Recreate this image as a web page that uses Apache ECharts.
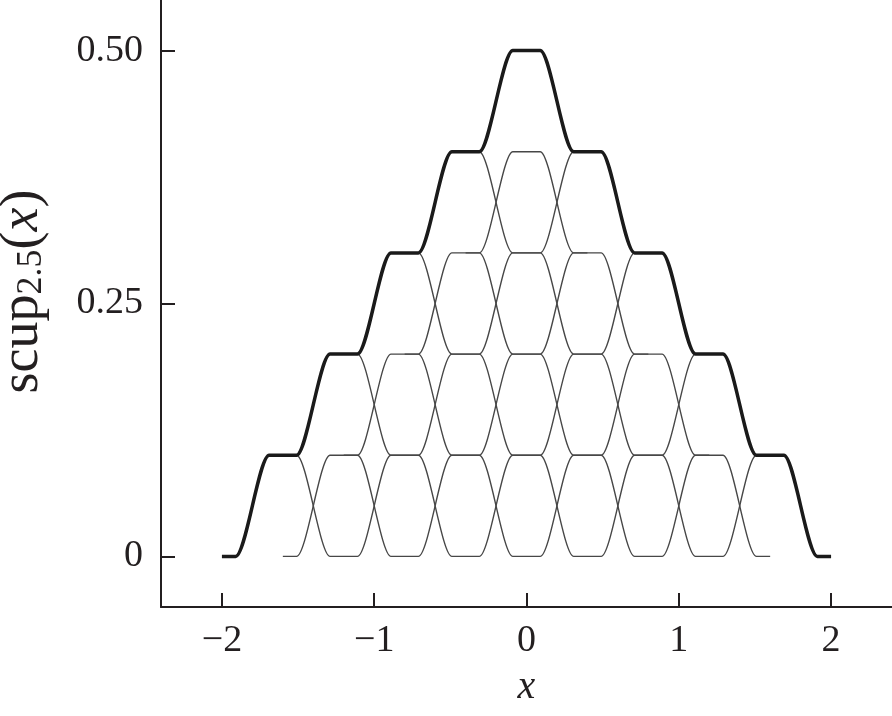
<!DOCTYPE html>
<html><head><meta charset="utf-8">
<script src="https://cdn.jsdelivr.net/npm/echarts@6/dist/echarts.min.js"></script>
<style>html,body{margin:0;padding:0;background:#fff}#c{width:892px;height:716px}</style>
</head><body><div id="c"></div>
<script>
// tick values and labels
const xTickValues = [-2, -1, 0, 1, 2];
const xTickLabels = ['\u22122', '\u22121', '0', '1', '2'];
const yTickValues = [0, 0.25, 0.5];
const yTickLabels = ['0', '0.25', '0.50'];

// scup_2.5(x): staircase outline (plateau end points)
const scupCurve = [[-2,0],[-1.91,0],[-1.69,0.1],[-1.51,0.1],[-1.29,0.2],[-1.11,0.2],[-0.89,0.3],[-0.71,0.3],
  [-0.49,0.4],[-0.31,0.4],[-0.09,0.5],[0.09,0.5],[0.31,0.4],[0.49,0.4],[0.71,0.3],[0.89,0.3],
  [1.11,0.2],[1.29,0.2],[1.51,0.1],[1.69,0.1],[1.91,0],[2,0]];

// thin component curves, row by row
const row0A = [[-1.6,0],[-1.51,0],[-1.29,0.1],[-1.11,0.1],[-0.89,0],[-0.71,0],[-0.49,0.1],[-0.31,0.1],[-0.09,0],[0.09,0],
  [0.31,0.1],[0.49,0.1],[0.71,0],[0.89,0],[1.11,0.1],[1.29,0.1],[1.51,0],[1.6,0]];
const row0B = [[-1.6,0.1],[-1.51,0.1],[-1.29,0],[-1.11,0],[-0.89,0.1],[-0.71,0.1],[-0.49,0],[-0.31,0],[-0.09,0.1],[0.09,0.1],
  [0.31,0],[0.49,0],[0.71,0.1],[0.89,0.1],[1.11,0],[1.29,0],[1.51,0.1],[1.6,0.1]];
const row1A = [[-1.2,0.1],[-1.11,0.1],[-0.89,0.2],[-0.71,0.2],[-0.49,0.1],[-0.31,0.1],[-0.09,0.2],[0.09,0.2],
  [0.31,0.1],[0.49,0.1],[0.71,0.2],[0.89,0.2],[1.11,0.1],[1.2,0.1]];
const row1B = [[-1.2,0.2],[-1.11,0.2],[-0.89,0.1],[-0.71,0.1],[-0.49,0.2],[-0.31,0.2],[-0.09,0.1],[0.09,0.1],
  [0.31,0.2],[0.49,0.2],[0.71,0.1],[0.89,0.1],[1.11,0.2],[1.2,0.2]];
const row2A = [[-0.8,0.2],[-0.71,0.2],[-0.49,0.3],[-0.31,0.3],[-0.09,0.2],[0.09,0.2],[0.31,0.3],[0.49,0.3],[0.71,0.2],[0.8,0.2]];
const row2B = [[-0.8,0.3],[-0.71,0.3],[-0.49,0.2],[-0.31,0.2],[-0.09,0.3],[0.09,0.3],[0.31,0.2],[0.49,0.2],[0.71,0.3],[0.8,0.3]];
const row3A = [[-0.4,0.3],[-0.31,0.3],[-0.09,0.4],[0.09,0.4],[0.31,0.3],[0.4,0.3]];
const row3B = [[-0.4,0.4],[-0.31,0.4],[-0.09,0.3],[0.09,0.3],[0.31,0.4],[0.4,0.4]];

const thinCurves = [row0A, row0B, row1A, row1B, row2A, row2B, row3A, row3B];

const FONT = '"Liberation Serif", "Times New Roman", serif';
const INK = '#231f20';

const chart = echarts.init(document.getElementById('c'), null, {renderer: 'canvas'});

const thinSeries = thinCurves.map(d => ({
  type: 'line', data: d, symbol: 'none', smooth: 0.3, smoothMonotone: 'x',
  lineStyle: {color: '#474747', width: 1.4}, silent: true, z: 2
}));

chart.setOption({
  animation: false,
  backgroundColor: '#fff',
  grid: {left: 161, right: 0, top: 0, bottom: 109, containLabel: false, outerBoundsMode: 'none'},
  xAxis: {
    type: 'value', min: -2.4, max: 2.4,
    name: 'x', nameLocation: 'middle', nameGap: 60,
    nameTextStyle: {fontFamily: FONT, fontSize: 40, fontStyle: 'italic', color: INK},
    axisLine: {onZero: false, lineStyle: {color: INK, width: 2}},
    axisTick: {inside: true, length: 14, lineStyle: {color: INK, width: 2}, customValues: xTickValues},
    axisLabel: {customValues: xTickValues, margin: 15, fontFamily: FONT, fontSize: 38, color: INK,
      formatter: v => xTickLabels[xTickValues.findIndex(t => Math.abs(t - v) < 1e-9)]},
    splitLine: {show: false}
  },
  yAxis: {
    type: 'value', min: -0.05, max: 0.55,
    name: '{n|scup}{s|2.5}{n|(}{i|x}{n|)}', nameLocation: 'middle', nameRotate: 90, nameGap: 111,
    nameTextStyle: {fontFamily: FONT, fontSize: 54, color: INK, padding: [0, 0, 0, 24],
      rich: {
        n: {fontFamily: FONT, fontSize: 54, color: INK},
        i: {fontFamily: FONT, fontSize: 54, fontStyle: 'italic', color: INK},
        s: {fontFamily: FONT, fontSize: 36, color: INK, verticalAlign: 'bottom', lineHeight: 22}
      }},
    axisLine: {onZero: false, lineStyle: {color: INK, width: 2}},
    axisTick: {inside: true, length: 14, lineStyle: {color: INK, width: 2}, customValues: yTickValues},
    axisLabel: {customValues: yTickValues, margin: 18, fontFamily: FONT, fontSize: 38, color: INK,
      formatter: v => yTickLabels[yTickValues.findIndex(t => Math.abs(t - v) < 1e-9)]},
    splitLine: {show: false}
  },
  series: thinSeries.concat([{
    type: 'line', data: scupCurve, symbol: 'none', smooth: 0.3, smoothMonotone: 'x',
    lineStyle: {color: '#1a1a1a', width: 3.5}, silent: true, z: 3
  }])
});
</script></body></html>
